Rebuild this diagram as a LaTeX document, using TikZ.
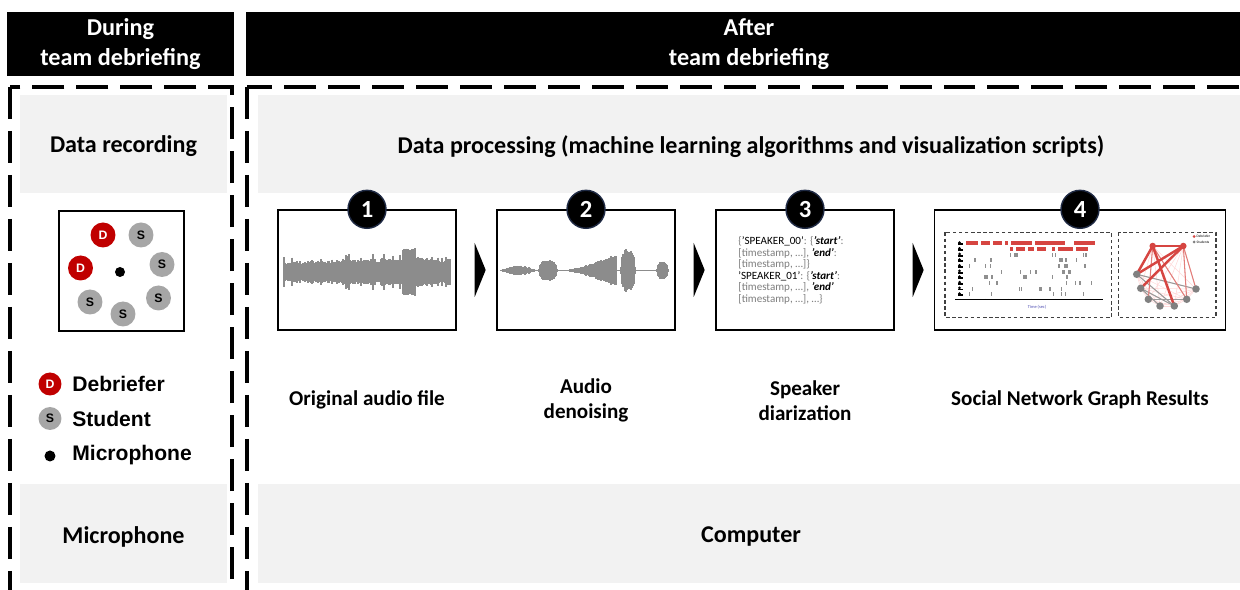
\documentclass[tikz,border=0pt]{standalone}
\usepackage{fontspec}
\setmainfont{Carlito}
\newfontfamily\arialfont{Liberation Sans}
\usetikzlibrary{calc}

\definecolor{dred}{HTML}{C00000}
\definecolor{sgray}{HTML}{A6A6A6}
\definecolor{boxgray}{HTML}{F2F2F2}
\definecolor{wavegray}{HTML}{8C8C8C}
\definecolor{txtgray}{HTML}{7F7F7F}
\definecolor{navy}{HTML}{1F2A44}
\definecolor{rastred}{HTML}{D64541}
\definecolor{rastgray}{HTML}{8F8F8F}

\newcommand{\kw}[1]{\textcolor{black}{\textbf{\textit{#1}}}}
\newcommand{\spk}[1]{\textcolor{black}{#1}}

\begin{document}
\begin{tikzpicture}[x=0.02cm,y=-0.02cm,
	headtext/.style={text=white,align=center,font=\fontsize{13.8}{17}\selectfont\bfseries},
	bandtext/.style={align=center,font=\fontsize{13.7}{16}\selectfont\bfseries},
	boxtext/.style={align=center,font=\fontsize{12}{14.2}\selectfont\bfseries},
	bigdash/.style={line width=0.07cm,dash pattern=on 0.64cm off 0.24cm},
	stepbox/.style={draw,line width=0.8pt,fill=white,minimum height=2.4cm,inner sep=0pt},
	numdot/.style={circle,fill=black,draw=navy,line width=0.8pt,minimum size=0.76cm,inner sep=0pt,text=white,font=\fontsize{14}{14}\selectfont\bfseries},
	dbr/.style={circle,fill=dred,minimum size=0.5cm,inner sep=0pt,text=white,font=\arialfont\fontsize{7}{7}\selectfont\bfseries},
	stu/.style={circle,fill=sgray,minimum size=0.5cm,inner sep=0pt,font=\arialfont\fontsize{7}{7}\selectfont\bfseries},
	mic/.style={circle,fill=black,minimum size=0.2cm,inner sep=0pt},
	legtext/.style={anchor=west,inner sep=0pt,font=\arialfont\fontsize{12}{12}\selectfont\bfseries},
	wave/.style={wavegray,line width=0.025cm},
	smalldash/.style={draw=black!75,line width=0.6pt,dash pattern=on 2pt off 1.5pt},
	faint/.style={red!15,line width=0.3pt},
	strongred/.style={rastred,line width=1.4pt},
	midred/.style={rastred!70,line width=0.6pt},
	darkedge/.style={gray!80,line width=0.6pt}]

	% page frame
	\path[use as bounding box,clip] (0,0) rectangle (1240,590);

	% black headers
	\fill (7,12) rectangle (234,76);
	\fill (246,12) rectangle (1252,76);
	\node[headtext] (hd) at (120.5,44) {During\\team debriefing};
	\node[headtext] (ha) at (749,44.5) {After\\team debriefing};

	% grey bands
	\fill[boxgray] (20,95) rectangle (227,193);
	\fill[boxgray] (258,95) rectangle (1252,193);
	\fill[boxgray] (20,484) rectangle (227,583);
	\fill[boxgray] (258,484) rectangle (1252,583);
	\node[bandtext] (rec) at (123.5,146.5) {Data recording};
	\node[bandtext] (proc) at (751,146.5) {Data processing (machine learning algorithms and visualization scripts)};
	\node[bandtext] (mc) at (123.5,536.5) {Microphone};
	\node[bandtext] (pc) at (751,536.5) {Computer};

	% dashed frames
	\draw[bigdash] (10,87) rectangle (232,640);
	\draw[bigdash] (247,87) rectangle (1290,640);

	% seating plan
	\draw[line width=0.8pt] (59,211) rectangle (184,331);
	\node[dbr] (p1) at (103,235) {D};
	\node[stu] (p2) at (141,235) {S};
	\node[dbr] (p3) at (80.5,268) {D};
	\node[stu] (p4) at (162,264.5) {S};
	\node[stu] (p5) at (90,302) {S};
	\node[stu] (p6) at (158.5,298) {S};
	\node[stu] (p7) at (123,314) {S};
	\node[mic] (m0) at (120,272) {};

	% legend
	\node[dbr,minimum size=0.46cm] (lg1) at (50,384) {D};
	\node[stu,minimum size=0.46cm] (lg2) at (50,418.5) {S};
	\node[mic,minimum size=0.22cm] (lg3) at (50,456) {};
	\node[legtext] (lt1) at (72,384) {Debriefer};
	\node[legtext] (lt2) at (72,418.5) {Student};
	\node[legtext] (lt3) at (72,455.5) {Microphone};

	% the four steps
	\node[stepbox,minimum width=3.56cm] (b1) at (367,270) {};
	\node[stepbox,minimum width=3.56cm] (b2) at (586,270) {};
	\node[stepbox,minimum width=3.56cm] (b3) at (805,270) {};
	\node[stepbox,minimum width=5.81cm] (b4) at (1080,270) {};
	\foreach \b/\n in {b1/1,b2/2,b3/3,b4/4}
		\node[numdot] (n\n) at (\b.north) {\n};

	% arrow heads between steps
	\foreach \a/\b in {b1/b2,b2/b3,b3/b4}
		\fill ($(\a.east)+(18,-27)$) -- ($(\a.east)+(29,0)$) -- ($(\a.east)+(18,27)$) -- cycle;

	\node[boxtext] (l1) at (367,400) {Original audio file};
	\node[boxtext] (l2) at (586,400.5) {Audio\\denoising};
	\node[boxtext] (l3) at (805,400.5) {Speaker\\diarization};
	\node[boxtext] (l4) at (1080,400) {Social Network Graph Results};

	% raw waveform
	\pgfmathsetseed{11}
	\foreach \x in {284,...,450} {
		\pgfmathsetmacro\h{(10+4*(\x-284)/166)*(0.7+0.35*rnd)+7*pow(rnd,5)}
		\draw[wave] (\x,272-\h) -- (\x,272+\h);
	}
	\foreach \x in {403,...,415} {
		\pgfmathsetmacro\h{21+3*rnd}
		\draw[wave] (\x,272-\h) -- (\x,272+\h);
	}

	% denoised waveform
	\draw[wave,line width=0.03cm] (501,270.5) -- (668,270.5);
	\foreach \a/\b/\amp/\p in {501/536/5/0.9,539/557/10.5/0.3,621/635/22/0.25,657/668/9/0.3}
		\foreach \x in {\a,...,\b} {
			\pgfmathsetmacro\h{max(0.8,\amp*pow(max(0.001,abs(sin(180*(\x-\a)/(\b-\a)))),\p)*(0.8+0.2*rnd))}
			\draw[wave] (\x,270.5-\h) -- (\x,270.5+\h);
		}
	\foreach \x in {570,...,616} {
		\pgfmathsetmacro\h{(1.5+16*pow((\x-570)/46+0.001,1.4))*(0.8+0.2*rnd)}
		\draw[wave] (\x,270.5-\h) -- (\x,270.5+\h);
	}

	% diarization output
	\node[anchor=north west,inner sep=0pt,align=left,text=txtgray,
		font=\fontsize{6.3}{6.55}\selectfont] (dia) at (738,236.5)
		{\{\spk{'SPEAKER\_00'}: \{\kw{'start'}:\\
		{[}timestamp, …], \kw{'end'}:\\
		{[}timestamp, …]\}\\
		\spk{'SPEAKER\_01'}: \{\kw{'start'}:\\
		{[}timestamp, …], \kw{'end'}\\
		{[}timestamp, …], …\}};

	% results: speaking raster
	\draw[smalldash] (945,232.5) rectangle (1111.5,317.5);
	\draw[line width=0.3pt] (955,299) -- (1103,299);
	\foreach \t in {960.7,985,1008,1031.7,1055,1079.3}
		\draw[line width=0.3pt] (\t,299) -- (\t,300.5);
	\node[text=blue!40!gray,font=\fontsize{2.5}{2.5}\selectfont,inner sep=0pt] (tax) at (1037,307.5) {Time (sec)};
	\foreach \r in {1,...,10} {
		\pgfmathsetmacro\ry{243.5+5.65*(\r-1)}
		\fill (959.5,\ry-0.8) circle (0.03cm);
		\fill (957.5,\ry) rectangle (962.5,\ry+1.8);
	}
	\foreach \k in {0,...,43} {
		\pgfmathtruncatemacro\on{rnd<0.7}
		\ifnum\on=1 \fill[rastred] (963+3*\k,241.5) rectangle ++(2.6,4); \fi
	}
	\foreach \k in {0,...,25} {
		\pgfmathtruncatemacro\on{rnd<0.7}
		\ifnum\on=1 \fill[rastred] (1010+3*\k,247.2) rectangle ++(2.6,4); \fi
	}
	\foreach \r in {3,...,10}
		\foreach \k in {1,...,6} {
			\pgfmathsetmacro\ry{243.5+5.65*(\r-1)}
			\pgfmathsetmacro\xx{966+128*rnd}
			\pgfmathsetmacro\w{0.8+3.5*pow(rnd,3)}
			\fill[rastgray] (\xx,\ry-2) rectangle ++(\w,4);
		}

	% results: interaction graph
	\draw[smalldash] (1118.5,232.5) rectangle (1216,317.5);
	\coordinate (d1) at (1152.7,246);
	\coordinate (d2) at (1183.3,246);
	\coordinate (s1) at (1136.7,274.3);
	\coordinate (s2) at (1140.7,288.3);
	\coordinate (s3) at (1148.3,299.3);
	\coordinate (s4) at (1160,306);
	\coordinate (s5) at (1174.3,306);
	\coordinate (s6) at (1186.7,299.3);
	\coordinate (s7) at (1196,289);
	\foreach \a [count=\i] in {d1,d2,s1,s2,s3,s4,s5,s6,s7}
		\foreach \b [count=\j] in {d1,d2,s1,s2,s3,s4,s5,s6,s7} {
			\ifnum\i<\j \draw[faint] (\a) -- (\b); \fi
		}
	\foreach \a/\b in {s1/s7,s1/s5,s2/s4,s3/s6,s2/s5}
		\draw[darkedge] (\a) -- (\b);
	\foreach \a/\b in {d2/s6,d2/s7,d1/s3,d1/s6}
		\draw[midred] (\a) -- (\b);
	\foreach \a/\b in {d1/d2,d1/s5,d2/s1,d2/s2,d1/s1}
		\draw[strongred] (\a) -- (\b);
	\foreach \p in {d1,d2}
		\fill[rastred] (\p) circle (0.065cm);
	\foreach \p in {s1,s2,s3,s4,s5,s6,s7}
		\fill[gray] (\p) circle (0.075cm);
	\fill[rastred] (1194,236.5) circle (0.03cm);
	\fill[gray] (1194,242) circle (0.03cm);
	\node[anchor=west,inner sep=0.5pt,font=\fontsize{2}{2}\selectfont] (gl1) at (1195.5,236.5) {Debriefer};
	\node[anchor=west,inner sep=0.5pt,font=\fontsize{2}{2}\selectfont] (gl2) at (1195.5,242) {Students};
\end{tikzpicture}
\end{document}
